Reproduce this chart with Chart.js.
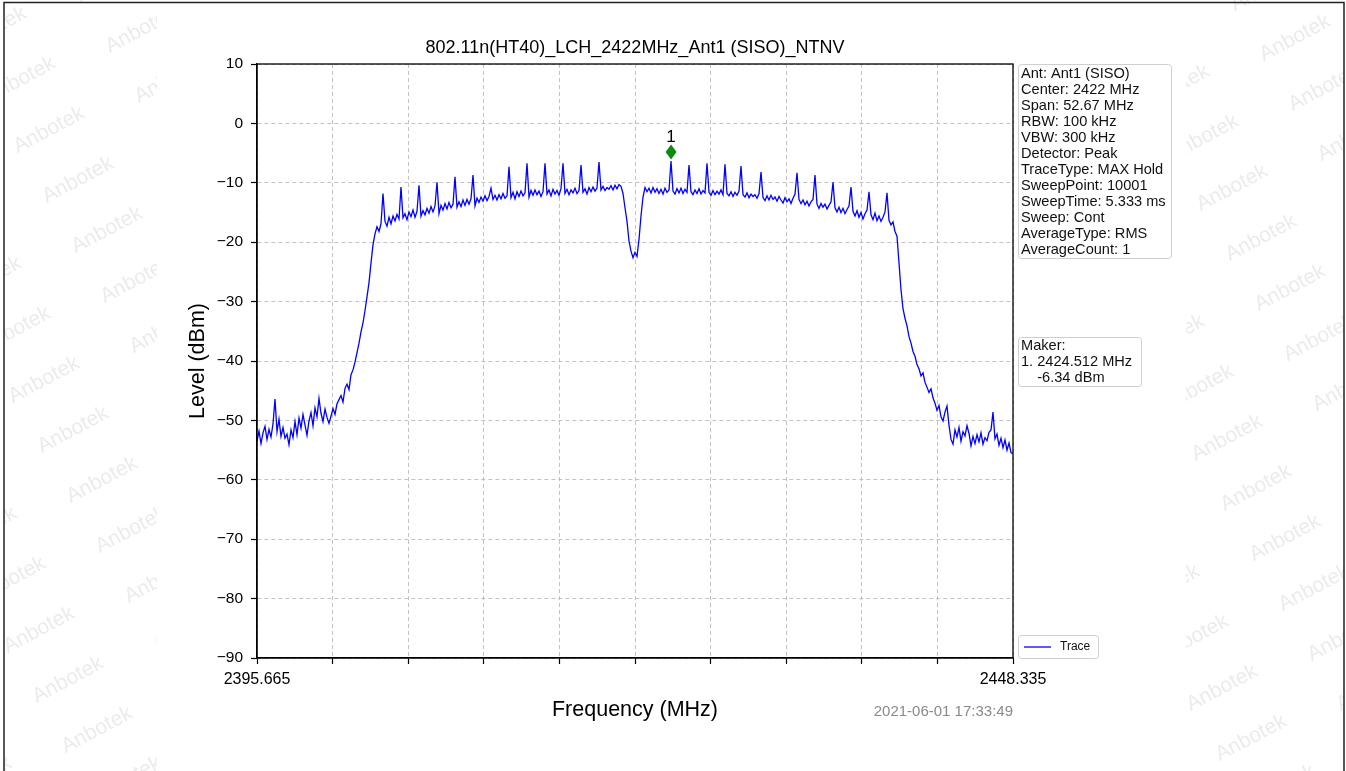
<!DOCTYPE html>
<html>
<head>
<meta charset="utf-8">
<script src="https://cdn.jsdelivr.net/npm/chart.js@4"></script>
<style>
html,body{margin:0;padding:0;background:#fff;}
canvas{display:block;}
</style>
</head>
<body>
<canvas id="c" width="1346" height="771"></canvas>
<script>
const chartTitle = '802.11n(HT40)_LCH_2422MHz_Ant1 (SISO)_NTNV';
const xAxisTitle = 'Frequency (MHz)';
const yAxisTitle = 'Level (dBm)';
const startFreq = 2395.665;
const stopFreq = 2448.335;
const xTickValues = [2395.665, 2400.932, 2406.199, 2411.466, 2416.733, 2422.000, 2427.267, 2432.534, 2437.801, 2443.068, 2448.335];
const xTickLabels = ['2395.665', '', '', '', '', '', '', '', '', '', '2448.335'];
const yTickValues = [10, 0, -10, -20, -30, -40, -50, -60, -70, -80, -90];
const infoLines = ['Ant: Ant1 (SISO)', 'Center: 2422 MHz', 'Span: 52.67 MHz', 'RBW: 100 kHz', 'VBW: 300 kHz', 'Detector: Peak', 'TraceType: MAX Hold', 'SweepPoint: 10001', 'SweepTime: 5.333 ms', 'Sweep: Cont', 'AverageType: RMS', 'AverageCount: 1'];
const markerLines = ['Maker:', '1. 2424.512 MHz', '    -6.34 dBm'];
const markerFreq = 2424.512;
const markerLevel = -6.34;
const markerLabel = '1';
const seriesName = 'Trace';
const timestamp = '2021-06-01 17:33:49';
const watermark = 'Anbotek';

// Trace levels (dBm), evenly spaced sweep points from startFreq to stopFreq
const traceLevels = [
-53.5,-51.8,-53.9,-52.1,-51.0,-53.2,-51.5,-52.8,-50.6,-46.4,
-51.9,-49.8,-52.7,-51.2,-53.0,-52.3,-54.1,-51.6,-52.9,-50.2,
-52.4,-49.6,-51.3,-49.0,-50.8,-52.5,-50.1,-48.7,-50.9,-47.9,
-49.4,-46.3,-48.8,-50.2,-48.1,-49.5,-50.5,-49.3,-48.0,-49.0,
-47.2,-46.5,-45.8,-46.9,-44.6,-43.9,-44.8,-42.3,-41.5,-40.2,
-38.6,-37.0,-35.1,-33.6,-31.5,-29.2,-26.8,-23.5,-20.4,-18.6,
-17.4,-18.2,-16.9,-11.8,-16.5,-17.3,-15.8,-16.9,-15.6,-16.4,
-15.3,-16.1,-10.7,-15.9,-15.2,-16.2,-14.9,-15.7,-14.6,-15.8,
-14.8,-10.4,-15.6,-14.7,-15.4,-14.3,-15.1,-14.0,-14.9,-13.9,
-9.9,-15.2,-13.8,-14.6,-13.5,-14.4,-13.3,-14.2,-13.6,-9.0,
-14.1,-13.2,-14.0,-12.9,-13.8,-12.8,-13.6,-12.7,-8.7,-13.9,
-12.6,-13.3,-12.4,-13.1,-12.2,-13.0,-12.3,-10.9,-12.8,-12.1,
-12.9,-12.0,-12.7,-11.8,-12.6,-12.2,-7.3,-12.5,-11.6,-12.7,
-11.5,-12.3,-11.4,-12.2,-11.7,-6.7,-12.4,-11.3,-12.1,-11.2,
-12.0,-11.4,-12.3,-11.5,-6.7,-11.9,-11.2,-12.2,-11.1,-11.9,
-11.3,-12.1,-11.0,-6.7,-11.8,-11.1,-12.0,-11.2,-11.7,-10.9,
-11.8,-11.3,-7.0,-11.6,-11.0,-11.9,-10.8,-11.5,-10.7,-11.4,
-10.9,-6.5,-11.2,-10.6,-11.3,-10.8,-11.1,-10.5,-11.2,-10.4,
-11.0,-10.3,-10.6,-11.8,-14.2,-16.5,-19.8,-21.5,-22.6,-21.7,
-22.4,-19.5,-15.6,-12.4,-10.8,-11.5,-10.9,-11.7,-10.8,-11.6,
-11.0,-11.8,-11.1,-11.9,-10.9,-11.6,-11.2,-6.34,-11.4,-11.9,
-11.0,-11.7,-10.9,-11.8,-11.1,-11.6,-7.0,-11.5,-12.0,-11.2,
-11.8,-11.0,-11.9,-11.3,-11.7,-6.7,-11.6,-12.1,-11.3,-12.0,
-11.4,-11.9,-11.2,-12.0,-6.9,-11.8,-12.2,-11.5,-12.3,-11.6,
-12.1,-11.4,-7.2,-12.0,-12.4,-11.7,-12.5,-11.9,-12.3,-12.0,
-12.6,-11.8,-8.2,-12.5,-13.0,-12.2,-12.9,-12.1,-12.8,-12.4,
-13.1,-12.3,-12.9,-13.4,-12.5,-13.2,-12.7,-13.5,-12.6,-11.9,
-8.3,-12.8,-13.5,-12.9,-13.7,-13.1,-13.9,-13.2,-12.8,-8.7,
-13.6,-14.3,-13.5,-14.1,-13.6,-14.4,-13.8,-13.2,-9.9,-14.2,
-14.9,-14.1,-15.0,-14.3,-15.2,-14.5,-13.9,-10.7,-14.8,-15.6,
-14.7,-15.8,-15.0,-16.1,-15.2,-14.6,-11.5,-15.4,-16.2,-15.1,
-16.4,-15.6,-16.5,-15.8,-14.9,-11.7,-16.3,-17.1,-16.6,-18.2,
-19.0,-23.5,-28.0,-31.2,-32.8,-34.1,-35.9,-37.0,-38.4,-39.2,
-40.6,-41.3,-42.5,-42.0,-43.6,-44.4,-45.3,-44.7,-46.2,-47.1,
-48.3,-47.5,-49.4,-50.1,-48.6,-47.6,-50.8,-53.2,-54.0,-51.6,
-52.8,-51.2,-53.5,-51.9,-52.6,-50.9,-52.2,-54.3,-52.7,-53.9,
-52.4,-53.6,-52.1,-54.0,-52.9,-53.4,-52.0,-51.6,-48.6,-53.1,
-52.3,-54.2,-53.0,-54.6,-53.3,-55.0,-53.8,-55.4,-55.6
];

const FONT = '"Liberation Sans", Arial, Helvetica, sans-serif';
const sweepStep = (stopFreq - startFreq) / (traceLevels.length - 1);
const tracePoints = traceLevels.map((v, i) => ({x: startFreq + i * sweepStep, y: v}));

const decor = {
  id: 'decor',
  beforeDraw(chart) {
    const ctx = chart.ctx;
    ctx.save();
    ctx.fillStyle = '#fff';
    ctx.fillRect(0, 0, chart.width, chart.height);
    // watermarks in side strips
    const strips = [{x0: 4, x1: 157, px: 60, py: 80}, {x0: 1186, x1: 1344, px: 1243, py: 138}];
    ctx.font = '21px ' + FONT;
    ctx.fillStyle = 'rgba(205,205,205,0.4)';
    ctx.textAlign = 'center';
    ctx.textBaseline = 'middle';
    strips.forEach(s => {
      ctx.save();
      ctx.beginPath();
      ctx.rect(s.x0, 0, s.x1 - s.x0, chart.height);
      ctx.clip();
      for (let k = -4; k < 18; k++) {
        const cy = s.py + k * 50;
        let cx = s.px + k * 29;
        cx = s.x0 + ((((cx - s.x0) % 150) + 150) % 150) - 40;
        for (let m = -1; m < 3; m++) {
          ctx.save();
          ctx.translate(cx + m * 150, cy);
          ctx.rotate(-28 * Math.PI / 180);
          ctx.fillText(watermark, 0, 0);
          ctx.restore();
        }
      }
      ctx.restore();
    });
    // outer page border
    ctx.strokeStyle = '#222';
    ctx.lineWidth = 1.5;
    ctx.beginPath();
    ctx.moveTo(4, 771); ctx.lineTo(4, 2.5); ctx.lineTo(1344, 2.5); ctx.lineTo(1344, 771);
    ctx.stroke();
    ctx.restore();
  },
  afterDraw(chart) {
    const ctx = chart.ctx;
    const a = chart.chartArea;
    const xs = chart.scales.x, ys = chart.scales.y;
    ctx.save();
    // frame
    ctx.strokeStyle = '#000';
    ctx.lineWidth = 1.3;
    ctx.strokeRect(a.left, a.top, a.right - a.left, a.bottom - a.top);
    // title
    ctx.fillStyle = '#000';
    ctx.textAlign = 'center';
    ctx.textBaseline = 'middle';
    ctx.font = '18px ' + FONT;
    ctx.fillText(chartTitle, (a.left + a.right) / 2, 48);
    // axis titles
    ctx.font = '21.5px ' + FONT;
    ctx.fillText(xAxisTitle, (a.left + a.right) / 2, 710);
    ctx.save();
    ctx.translate(198, (a.top + a.bottom) / 2);
    ctx.rotate(-Math.PI / 2);
    ctx.fillText(yAxisTitle, 0, 0);
    ctx.restore();
    // timestamp
    ctx.font = '15px ' + FONT;
    ctx.fillStyle = '#8a8a8a';
    ctx.textAlign = 'right';
    ctx.fillText(timestamp, a.right, 712);
    // marker
    const mx = xs.getPixelForValue(markerFreq);
    const my = ys.getPixelForValue(markerLevel) - 9;
    ctx.fillStyle = '#118a11';
    ctx.beginPath();
    ctx.moveTo(mx, my - 7.5); ctx.lineTo(mx + 5.5, my); ctx.lineTo(mx, my + 7.5); ctx.lineTo(mx - 5.5, my);
    ctx.closePath();
    ctx.fill();
    ctx.fillStyle = '#000';
    ctx.textAlign = 'center';
    ctx.font = '17px ' + FONT;
    ctx.fillText(markerLabel, mx, my - 15);
    // boxes
    function box(x, y, w, h) {
      ctx.save();
      ctx.fillStyle = 'rgba(255,255,255,0.9)';
      ctx.strokeStyle = '#cfcfcf';
      ctx.lineWidth = 1;
      const r = 3;
      ctx.beginPath();
      ctx.moveTo(x + r, y); ctx.lineTo(x + w - r, y); ctx.quadraticCurveTo(x + w, y, x + w, y + r);
      ctx.lineTo(x + w, y + h - r); ctx.quadraticCurveTo(x + w, y + h, x + w - r, y + h);
      ctx.lineTo(x + r, y + h); ctx.quadraticCurveTo(x, y + h, x, y + h - r);
      ctx.lineTo(x, y + r); ctx.quadraticCurveTo(x, y, x + r, y);
      ctx.closePath();
      ctx.fill();
      ctx.stroke();
      ctx.restore();
    }
    const bx = a.right + 5;
    box(bx + 0.5, 64.5, 153, 194);
    ctx.font = '14.6px ' + FONT;
    ctx.fillStyle = '#111';
    ctx.textAlign = 'left';
    ctx.textBaseline = 'middle';
    infoLines.forEach((t, i) => ctx.fillText(t, bx + 3, 73.5 + i * 16));
    box(bx + 0.5, 337.5, 123, 49);
    markerLines.forEach((t, i) => ctx.fillText(t, bx + 3, 346 + i * 16));
    // legend
    box(bx + 0.5, 635.5, 80, 23);
    ctx.strokeStyle = '#0000ff';
    ctx.lineWidth = 1.3;
    ctx.beginPath();
    ctx.moveTo(bx + 6, 647); ctx.lineTo(bx + 33, 647);
    ctx.stroke();
    ctx.font = '12px ' + FONT;
    ctx.fillStyle = '#111';
    ctx.fillText(seriesName, bx + 42, 647);
    ctx.restore();
  }
};

new Chart(document.getElementById('c'), {
  type: 'line',
  data: {
    datasets: [{
      label: seriesName,
      data: tracePoints,
      borderColor: '#0000ff',
      borderWidth: 1.3,
      pointRadius: 0,
      tension: 0,
      fill: false
    }]
  },
  options: {
    responsive: false,
    animation: false,
    devicePixelRatio: 1,
    layout: {padding: {left: 0, right: 333, top: 64, bottom: 0}},
    plugins: {legend: {display: false}, title: {display: false}, tooltip: {enabled: false}},
    scales: {
      x: {
        type: 'linear',
        min: startFreq,
        max: stopFreq,
        afterFit(scale) { scale.height = 113; },
        afterBuildTicks(scale) { scale.ticks = xTickValues.map(v => ({value: v})); },
        ticks: {
          autoSkip: false,
          maxRotation: 0,
          padding: 6,
          color: '#000',
          font: {family: FONT, size: 16},
          callback: (v, i) => xTickLabels[i]
        },
        grid: {color: '#b4b4b4', lineWidth: 0.8, drawTicks: true, tickLength: 6, tickColor: '#000', tickWidth: 1.2},
        border: {display: true, color: '#000', width: 1.3, dash: [4, 3]}
      },
      y: {
        type: 'linear',
        min: -90,
        max: 10,
        afterFit(scale) { scale.width = 257; },
        afterBuildTicks(scale) { scale.ticks = yTickValues.map(v => ({value: v})); },
        ticks: {
          padding: 8,
          color: '#000',
          font: {family: FONT, size: 15.5},
          callback: v => String(v).replace('-', '\u2212')
        },
        grid: {color: '#b4b4b4', lineWidth: 0.8, drawTicks: true, tickLength: 6, tickColor: '#000', tickWidth: 1.2},
        border: {display: true, color: '#000', width: 1.3, dash: [4, 3]}
      }
    }
  },
  plugins: [decor]
});
</script>
</body>
</html>
